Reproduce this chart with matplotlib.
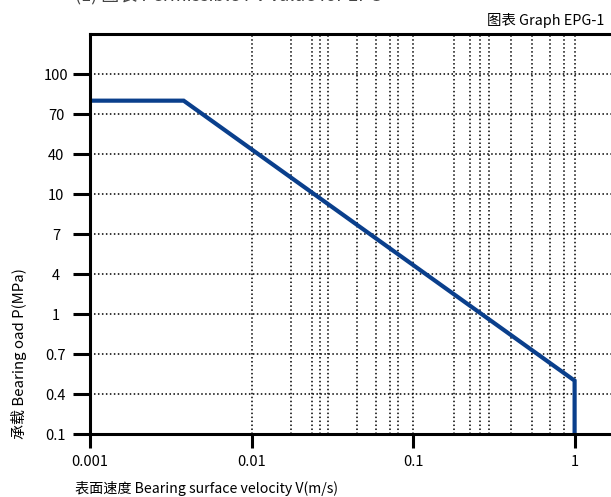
import numpy as np
import matplotlib
matplotlib.use("Agg")
import matplotlib.pyplot as plt

plt.rcParams['font.family'] = ['Noto Sans CJK SC', 'DejaVu Sans']

# ---- data ----
y_tick_values = [0.1, 0.4, 0.7, 1, 4, 7, 10, 40, 70, 100]
y_tick_labels = ["0.1", "0.4", "0.7", "1", "4", "7", "10", "40", "70", "100"]
x_tick_values = [0.001, 0.01, 0.1, 1]
x_tick_labels = ["0.001", "0.01", "0.1", "1"]
x_grid_values = [0.01, 0.0175, 0.0236, 0.0264, 0.0297, 0.0449, 0.0589, 0.072, 0.0807,
                 0.1, 0.180, 0.226, 0.2585, 0.295, 0.402, 0.546, 0.708, 0.857, 1]
velocity = [0.001, 0.0038, 1, 1]
load = [80, 80, 0.5, 0.1]

# piecewise axis mapping (equal spacing between labelled values)
map_vals = np.array(y_tick_values + [130.0])
map_pos = np.arange(len(map_vals), dtype=float)

def fwd(v):
    return np.interp(v, map_vals, map_pos)

def inv(p):
    return np.interp(p, map_pos, map_vals)

fig = plt.figure(figsize=(6.11, 4.97), dpi=100)
ax = fig.add_axes([90/611, 63/497, 521/611, 400/497])

ax.set_xscale('log')
ax.set_yscale('function', functions=(fwd, inv))
ax.set_xlim(0.001, 1.68)
ax.set_ylim(0.1, inv(10.03))

dot = (0, (1, 1.6))
for xv in x_grid_values:
    ax.axvline(xv, color='black', lw=1.1, ls=dot, zorder=1)
for yv in y_tick_values[1:]:
    ax.axhline(yv, color='black', lw=1.1, ls=dot, zorder=1)

ax.plot(velocity, load, color='#0a3f8c', lw=3.0, solid_joinstyle='miter',
        solid_capstyle='butt', zorder=3)

ax.set_xticks(x_tick_values)
ax.set_xticklabels(x_tick_labels)
ax.xaxis.set_minor_locator(matplotlib.ticker.NullLocator())
ax.set_yticks(y_tick_values)
ax.set_yticklabels(y_tick_labels)
ax.yaxis.set_minor_locator(matplotlib.ticker.NullLocator())

ax.tick_params(axis='y', length=12.5, width=2.2, pad=12, labelsize=10.5, direction='out')
ax.tick_params(axis='x', length=10, width=2.2, pad=5, labelsize=10.5, direction='out')
for lab in ax.get_yticklabels():
    lab.set_horizontalalignment('center')

for s in ['left', 'bottom', 'top']:
    ax.spines[s].set_linewidth(2.2)
    ax.spines[s].set_zorder(4)
ax.spines['right'].set_visible(False)

fig.text(604/611, 1 - 20/497, "图表 Graph EPG-1", ha='right', va='center', fontsize=10.4)
fig.text(75/611, 1 - 489/497, "表面速度 Bearing surface velocity V(m/s)", ha='left',
         va='center', fontsize=10.2)
fig.text(19/611, 1 - 439/497, "承载 Bearing oad P(MPa)", ha='center', va='bottom',
         rotation=90, fontsize=10.8)
fig.text(75/611, 1 - 1/497, "(1) 图表 Permissible PV value for EPG", ha='left',
         va='baseline', fontsize=13, color='#444444')

fig.savefig("out.png", dpi=100)
